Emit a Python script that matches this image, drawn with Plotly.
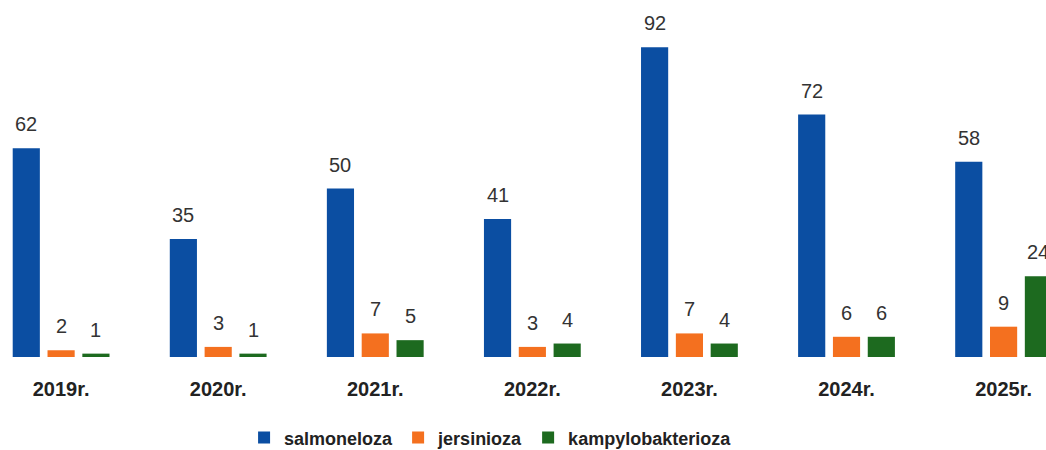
import plotly.graph_objects as go

years = ["2019r.", "2020r.", "2021r.", "2022r.", "2023r.", "2024r.", "2025r."]
salmoneloza = [62, 35, 50, 41, 92, 72, 58]
jersinioza = [2, 3, 7, 3, 7, 6, 9]
kampylobakterioza = [1, 1, 5, 4, 4, 6, 24]

series = [
    ("salmoneloza", salmoneloza, "#0b4ea2"),
    ("jersinioza", jersinioza, "#f4701f"),
    ("kampylobakterioza", kampylobakterioza, "#1d6a1f"),
]

BARGAP = 0.335
slot = (1 - BARGAP) / 3
xs = list(range(len(years)))

fig = go.Figure()
for k, (name, vals, col) in enumerate(series):
    fig.add_trace(go.Bar(
        x=xs, y=vals, name="<b>%s</b>" % name,
        marker=dict(color=col, line=dict(width=0)),
    ))
    # value labels above bars
    for i, v in enumerate(vals):
        fig.add_annotation(
            x=i + (k - 1) * slot, y=v, text=str(v), showarrow=False,
            yanchor="bottom", yshift=11,
            font=dict(size=20, color="#333333", family="Liberation Sans"),
        )

fig.update_layout(
    width=1046, height=450,
    barmode="group", bargap=BARGAP, bargroupgap=0.22,
    margin=dict(l=0, r=0, t=0, b=93, autoexpand=False),
    paper_bgcolor="white", plot_bgcolor="white",
    font=dict(family="Liberation Sans", color="#222222"),
    legend=dict(
        orientation="h", x=0.469, xanchor="center",
        yref="container", y=0.027, yanchor="middle",
        font=dict(size=18, color="#222222", family="Liberation Sans"),
        itemwidth=30, traceorder="normal",
    ),
)
fig.update_xaxes(
    range=[-0.389, 6.27], showgrid=False, showline=False, zeroline=False,
    ticks="", tickfont=dict(size=20, color="#222222", family="Liberation Sans"),
    ticklabelstandoff=18, automargin=False,
    tickvals=xs, ticktext=["<b>%s</b>" % y for y in years],
)
fig.update_yaxes(range=[0, 106], visible=False, showgrid=False, zeroline=False)

fig.write_html("out.html", config={"displayModeBar": False},
               post_script="document.body.style.margin='0';")
